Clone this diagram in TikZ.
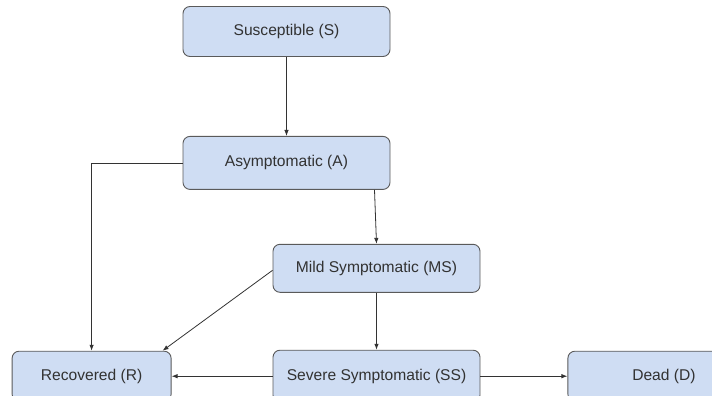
\documentclass[tikz,border=0pt]{standalone}
\usepackage{fontspec}
\setmainfont{Liberation Sans}
\usepackage{tikz}
\usetikzlibrary{positioning, arrows.meta}
\definecolor{boxfill}{RGB}{207,221,243}
\definecolor{boxline}{RGB}{90,90,90}
\definecolor{txtgray}{RGB}{50,50,50}

\begin{document}
\begin{tikzpicture}[x=1pt, y=1pt,
    state/.style={draw=boxline, fill=boxfill, rounded corners=7pt, line width=0.9pt,
      minimum width=207pt, minimum height=50pt, text=txtgray,
      font=\fontsize{15.6}{18}\selectfont},
    arr/.style={-{Latex[length=6pt, width=4.5pt]}, line width=0.8pt, draw=black!80}]
  \useasboundingbox (0,0) rectangle (712,-396);
  \clip (0,0) rectangle (712,-396);

  \node[state] at (286.5,-31.5)                        (S)  {Susceptible (S)};
  \node[state, minimum height=53pt, below=79pt of S]   (A)  {Asymptomatic (A)};
  \node[state, minimum height=48pt, below=54pt of A, xshift=90pt] (MS) {Mild Symptomatic (MS)};
  \node[state, minimum height=52pt, below=57pt of MS]  (SS) {Severe Symptomatic (SS)};
  \node[state, minimum width=159pt, left=101pt of SS]  (R)  {Recovered (R)};
  \node[state, minimum width=192pt, right=87pt of SS]  (D)  {Dead (D)};

  \draw[arr] (S) -- (A);
  \draw[arr] (A.west) -| (R.north);
  \draw[arr] ([xshift=88pt]A.south) -- (MS.north);
  \draw[arr] ([yshift=-2pt]MS.west) -- ([xshift=-9pt]R.north east);
  \draw[arr] (MS) -- (SS);
  \draw[arr] (SS) -- (R);
  \draw[arr] (SS) -- (D);
\end{tikzpicture}
\end{document}
